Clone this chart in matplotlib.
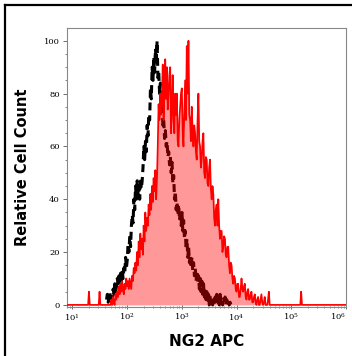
import numpy as np
import matplotlib
matplotlib.use("Agg")
import matplotlib.pyplot as plt
from matplotlib.lines import Line2D
from matplotlib.ticker import LogLocator, MultipleLocator, FixedLocator

# ---- data: relative counts on a log10 channel grid ----
# NG2 APC stained sample (red), grid start / step in log10 units
red_start, red_step = 1.697, 0.01515
red_counts = [
    0, 2, 0, 3, 1, 0, 4, 2, 5, 3,
    7, 4, 8, 5, 9, 6, 4, 8, 6, 10,
    7, 9, 6, 10, 8, 6, 11, 9, 14, 12,
    16, 13, 20, 15, 24, 18, 27, 21, 25, 19,
    30, 24, 35, 28, 33, 30, 38, 34, 42, 36,
    45, 39, 48, 43, 51, 40, 47, 60, 76, 70,
    80, 72, 78, 91, 70, 80, 93, 78, 90, 74,
    80, 87, 90, 65, 75, 87, 70, 65, 80, 72,
    80, 62, 60, 70, 75, 80, 82, 66, 60, 72,
    85, 70, 98, 80, 100, 72, 70, 62, 75, 66,
    60, 68, 65, 58, 55, 70, 80, 62, 60, 52,
    55, 62, 65, 50, 48, 56, 55, 46, 45, 52,
    55, 44, 40, 45, 42, 33, 30, 36, 38, 30,
    40, 30, 25, 28, 28, 20, 22, 26, 25, 19,
    18, 22, 22, 15, 12, 16, 15, 10, 8, 11,
    10, 6, 5, 8, 8, 3, 3, 6, 10, 6,
    5, 7, 8, 3, 2, 5, 6, 2, 2, 4,
    5, 1, 1, 3, 4, 1, 0, 2, 3, 0,
    0, 2, 4, 1, 0, 1, 3, 0, 0, 0,
    2, 5, 0,
]
# isolated single-channel events of the stained sample
red_spike_log = [1.303, 1.497, 5.18]
red_spike_counts = [5, 5, 5]

# isotype / unstained control (black dashed)
ctrl_start, ctrl_step = 1.6242, 0.01515
ctrl_counts = [
    2, 4, 1, 3, 5, 2, 4, 2, 6, 4,
    8, 5, 7, 10, 8, 11, 8, 12, 9, 13,
    10, 14, 12, 18, 14, 17, 23, 20, 26, 22,
    30, 34, 31, 40, 36, 45, 40, 47, 42, 45,
    40, 48, 44, 47, 52, 60, 55, 62, 58, 68,
    64, 72, 70, 82, 78, 90, 85, 94, 88, 97,
    92, 100, 86, 88, 80, 84, 74, 76, 68, 70,
    63, 66, 60, 62, 56, 58, 53, 56, 50, 54,
    46, 49, 40, 43, 36, 39, 34, 38, 32, 36,
    30, 35, 28, 32, 25, 28, 21, 25, 18, 22,
    16, 19, 14, 18, 13, 16, 11, 14, 9, 13,
    8, 11, 6, 10, 5, 9, 4, 8, 3, 6,
    2, 5, 1, 4, 0, 3, 0, 1, 0, 2,
    0, 3, 1, 4, 1, 3, 0, 4, 2, 3,
    0, 2, 1, 3, 0, 2, 0, 1, 0, 1,
    0, 0,
]

x_label = "NG2 APC"
y_label = "Relative Cell Count"
y_ticks = [0, 20, 40, 60, 80, 100]
x_decades = [1, 2, 3, 4, 5, 6]

# ---- figure ----
plt.rcParams["mathtext.fontset"] = "dejavuserif"
fig = plt.figure(figsize=(3.52, 3.56), dpi=100)
ax = fig.add_axes([0.190, 0.1376, 0.793, 0.7834])

xmin, xmax = 10 ** 0.9, 10 ** 6.0
red_log = red_start + red_step * np.arange(len(red_counts))
ctrl_log = ctrl_start + ctrl_step * np.arange(len(ctrl_counts))

# assemble the stained trace: baseline, spikes, main body
pts = [(np.log10(xmin), 0.0)]
for sl, sc in zip(red_spike_log, red_spike_counts):
    if sl < red_log[0]:
        pts += [(sl - red_step, 0.0), (sl, float(sc)), (sl + red_step, 0.0)]
pts += list(zip(red_log, np.array(red_counts, dtype=float)))
for sl, sc in zip(red_spike_log, red_spike_counts):
    if sl > red_log[-1]:
        pts += [(sl - red_step, 0.0), (sl, float(sc)), (sl + red_step, 0.0)]
pts.append((np.log10(xmax), 0.0))
pts = np.array(pts)
rx = 10 ** pts[:, 0]
ry = pts[:, 1]

cx = 10 ** ctrl_log
cy = np.array(ctrl_counts, dtype=float)

ax.plot(cx, cy, color="black", lw=2.2, ls=(0, (2.6, 1.6)),
        dash_capstyle="butt", zorder=2)
ax.fill_between(rx, 0, ry, color="red", alpha=0.4, lw=0, zorder=3)
ax.plot(rx, ry, color="red", lw=1.25, zorder=4)

ax.set_xscale("log")
ax.set_xlim(xmin, xmax)
ax.set_ylim(-0.8, 104.8)

ax.xaxis.set_major_locator(FixedLocator([10.0 ** d for d in x_decades]))
ax.xaxis.set_minor_locator(LogLocator(base=10, subs=np.arange(2, 10), numticks=20))
ax.set_xticklabels([r"$10^{%d}$" % d for d in x_decades])
ax.yaxis.set_major_locator(FixedLocator(y_ticks))
ax.yaxis.set_minor_locator(MultipleLocator(5))
ax.set_yticklabels([str(v) for v in y_ticks])

for lab in ax.get_yticklabels():
    lab.set_fontfamily("DejaVu Serif")
ax.tick_params(axis="both", which="major", labelsize=6, length=3, width=0.6,
               color="#555555", pad=2)
ax.tick_params(axis="both", which="minor", length=1.8, width=0.5, color="#555555")
ax.tick_params(axis="x", which="both", direction="inout")
ax.get_xticklabels()[-1].set_horizontalalignment("right")

for sp in ax.spines.values():
    sp.set_color("#888888")
    sp.set_linewidth(0.8)

ax.set_xlabel(x_label, fontsize=11, fontweight="bold", family="DejaVu Sans", labelpad=8)
ax.set_ylabel(y_label, fontsize=10.5, fontweight="bold", family="DejaVu Sans", labelpad=10)

# outer frame (left and top)
fig.add_artist(Line2D([0.014, 0.014], [0.0, 0.986], transform=fig.transFigure,
                      color="black", lw=1.6))
fig.add_artist(Line2D([0.014, 1.0], [0.986, 0.986], transform=fig.transFigure,
                      color="black", lw=1.6))

fig.savefig("out.png", dpi=100)
